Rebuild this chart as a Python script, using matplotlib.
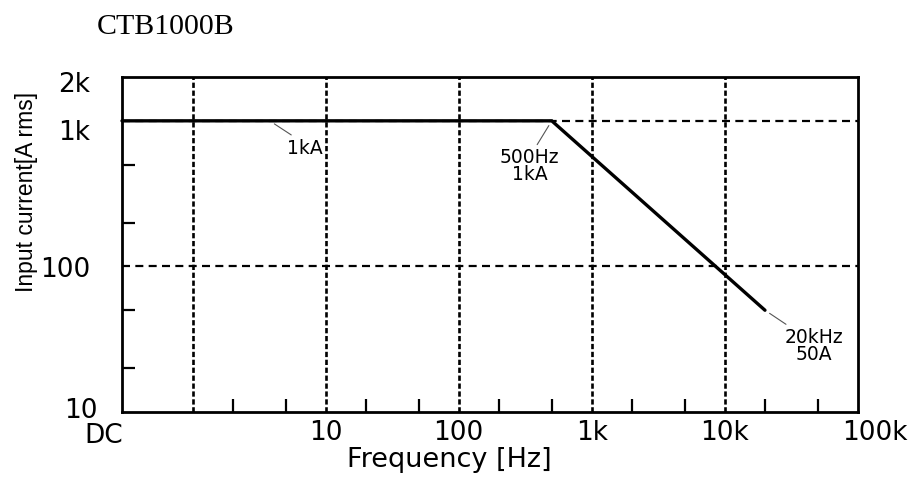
import matplotlib
matplotlib.use("Agg")
import matplotlib.pyplot as plt
import matplotlib.transforms as mtrans
from matplotlib.ticker import FixedLocator, NullFormatter

# ---------------- data ----------------
title = "CTB1000B"
dc_position = 10 ** -0.53          # where "DC" sits on the log axis
freq_hz = [dc_position, 500, 20000]
current_a = [1000, 1000, 50]

x_tick_values = [dc_position, 10, 100, 1000, 10000, 100000]
x_tick_labels = ["DC", "10", "100", "1k", "10k", "100k"]
x_grid_values = [1, 10, 100, 1000, 10000]
x_minor_values = [2, 5, 20, 50, 200, 500, 2000, 5000, 20000, 50000]

y_tick_values = [10, 100, 1000, 2000]
y_tick_labels = ["10", "100", "1k", "2k"]
y_grid_values = [100, 1000]
y_minor_values = [20, 50, 200, 500]

annot_texts = ["1kA", "500Hz\n1kA", "20kHz\n50A"]
annot_x = [3.8, 500, 20000]
annot_y = [1000, 1000, 50]

# ---------------- figure ----------------
fig = plt.figure(figsize=(9.15, 4.81), dpi=100)
ax = fig.add_axes([122 / 915, 68 / 481, (858 - 122) / 915, (413 - 78) / 481])
ax.set_xscale("log")
ax.set_yscale("log")
ax.set_xlim(dc_position, 100000)
ax.set_ylim(10, 2000)

sans = ["DejaVu Sans"]

# grid lines
for gx in x_grid_values:
    ax.axvline(gx, color="black", lw=1.9, dashes=(2.0, 1.0), zorder=1)
for gy in y_grid_values:
    ax.axhline(gy, color="black", lw=1.6, dashes=(3.6, 2.4), zorder=1)

# data line
ax.plot(freq_hz, current_a, color="black", lw=2.4, solid_capstyle="round",
        solid_joinstyle="miter", zorder=3, clip_on=False)

# spines
for sp in ax.spines.values():
    sp.set_linewidth(2.0)
    sp.set_color("black")

# ticks
ax.xaxis.set_major_locator(FixedLocator(x_tick_values))
ax.set_xticklabels(x_tick_labels)
ax.xaxis.set_minor_locator(FixedLocator(x_minor_values))
ax.xaxis.set_minor_formatter(NullFormatter())
ax.yaxis.set_major_locator(FixedLocator(y_tick_values))
ax.set_yticklabels(y_tick_labels)
ax.yaxis.set_minor_locator(FixedLocator(y_minor_values))
ax.yaxis.set_minor_formatter(NullFormatter())

ax.tick_params(which="major", length=0)
ax.tick_params(axis="x", which="major", pad=5, labelsize=19)
ax.tick_params(axis="y", which="major", pad=23, labelsize=19)
ax.tick_params(which="minor", direction="in", length=9.5, width=1.6, color="black")
for lab in ax.get_xticklabels() + ax.get_yticklabels():
    lab.set_family(sans)

# per-label offsets as in the reference
xl = ax.get_xticklabels()
xl[0].set_transform(xl[0].get_transform() + mtrans.ScaledTranslation(-0.18, -0.03, fig.dpi_scale_trans))
xl[-1].set_transform(xl[-1].get_transform() + mtrans.ScaledTranslation(0.17, 0, fig.dpi_scale_trans))
yl = ax.get_yticklabels()
yl[0].set_transform(yl[0].get_transform() + mtrans.ScaledTranslation(0.08, 0.05, fig.dpi_scale_trans))
yl[2].set_transform(yl[2].get_transform() + mtrans.ScaledTranslation(0, -0.08, fig.dpi_scale_trans))
yl[3].set_transform(yl[3].get_transform() + mtrans.ScaledTranslation(0, -0.04, fig.dpi_scale_trans))

# annotations
annot_offsets = [(25, -19), (-16, -32), (35, -25)]
annot_relpos = [(0.25, 1), (0.6, 1), (0.1, 1)]
for txt, ax_, ay_, off, rp in zip(annot_texts, annot_x, annot_y, annot_offsets, annot_relpos):
    ax.annotate(txt, xy=(ax_, ay_), xytext=off, textcoords="offset points",
                ha="center", va="center", fontsize=13.5, family=sans,
                linespacing=0.85, zorder=4,
                arrowprops=dict(arrowstyle="-", color="#555555", lw=0.8,
                                shrinkA=0, shrinkB=4, relpos=rp))

# labels & title
fig.text(449 / 915, (481 - 467) / 481, "Frequency [Hz]", ha="center", va="baseline",
         fontsize=19.5, family=sans)
fig.text(27 / 915, 1 - 192 / 481, "Input current[A rms]", rotation=90,
         ha="center", va="center", fontsize=16.5, family=["Liberation Sans", "DejaVu Sans"])
fig.text(97 / 915, (481 - 34) / 481, title, ha="left", va="baseline",
         fontsize=21.5, family=["Liberation Serif", "DejaVu Serif"])

fig.savefig("out.png", dpi=100)
